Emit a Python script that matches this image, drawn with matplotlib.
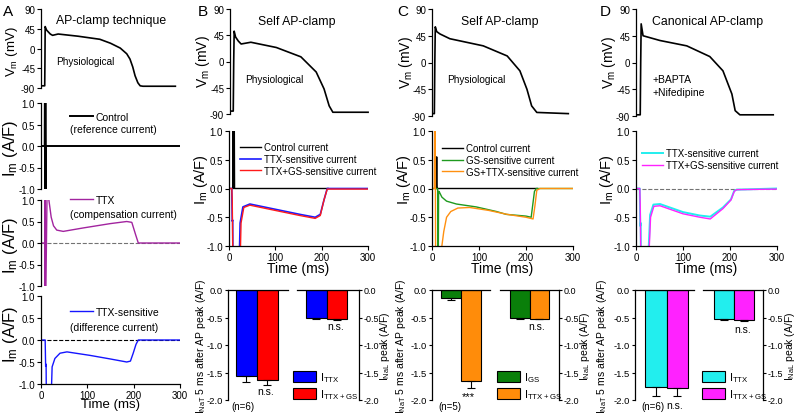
import matplotlib.pyplot as plt

plt.rcParams['font.family'] = ['Liberation Sans', 'DejaVu Sans']
plt.rcParams['mathtext.default'] = 'regular'
plt.rcParams['axes.unicode_minus'] = False
plt.rcParams['axes.linewidth'] = 0.9

# ---- action potential waveforms (time ms, mV) ----
A_ap_t = [0, 8, 8.5, 9, 12, 20, 25, 37, 80, 127, 150, 171, 185, 192, 198, 203, 209, 214, 220, 290]
A_ap_v = [-85, -85, -30, 50, 42, 33, 30, 33, 28, 21, 12, 1, -12, -24, -42, -62, -78, -85, -86, -86]
B_ap_t = [0, 7, 8, 9, 12, 18, 24, 45, 100, 153, 186, 203, 214, 222, 298]
B_ap_v = [-85, -85, 0, 52, 42, 35, 30, 33, 24, 8, -18, -47, -76, -87, -87]
C_ap_t = [0, 5, 6, 7, 10, 17, 38, 109, 160, 187, 202, 212, 223, 290]
C_ap_v = [-86, -86, 0, 60, 52, 48, 40, 28, 11, -14, -45, -73, -84, -86]
D_ap_t = [0, 9, 10, 11, 15, 51, 108, 157, 185, 204, 211, 221, 292]
D_ap_v = [-88, -88, 0, 65, 45, 37, 28, 10, -14, -53, -81, -88, -88]

# ---- current traces (time ms, A/F) ----
A_ctrl_t = [0, 8, 8.5, 9, 9.5, 10, 10.5, 300]
A_ctrl_v = [0, 0, 2, -2, 2, -2, 0, 0]
A_ttx_t = [0, 8, 8.5, 9, 9.5, 14, 17, 22, 27, 34, 48, 91, 149, 185, 196, 204, 210, 300]
A_ttx_v = [0, 0, -2, 2, -2, 2, 1.0, 0.6, 0.4, 0.3, 0.27, 0.35, 0.45, 0.5, 0.48, 0.2, 0.0, 0.0]
A_sens_t = [0, 9, 10, 11, 12, 20, 24, 30, 41, 56, 106, 149, 185, 193, 199, 205, 210, 300]
A_sens_v = [0, 0, -0.6, -0.55, -2, -2, -0.61, -0.42, -0.3, -0.27, -0.35, -0.43, -0.5, -0.48, -0.3, -0.1, 0, 0]

B_ctrl_t = [8, 9, 10, 11, 12, 214]
B_ctrl_v = [0, 2, 0, 2, 0, 0]
B_ttx_t = [0, 6, 7, 8, 9, 20, 24, 30, 45, 117, 153, 186, 197, 205, 212, 300]
B_ttx_v = [0, 0, -0.57, -0.55, -2, -2, -0.6, -0.32, -0.27, -0.39, -0.45, -0.5, -0.45, -0.2, 0, 0]
B_gs_t = [0, 6, 7, 8, 9, 22, 26, 32, 45, 117, 153, 186, 197, 205, 212, 300]
B_gs_v = [0, 0, -0.2, -1.0, -2, -2, -0.6, -0.33, -0.29, -0.41, -0.47, -0.52, -0.47, -0.2, -0.01, -0.01]

C_ctrl_t = [9, 10, 11, 13, 224]
C_ctrl_v = [0, 0.55, 0, 0, 0]
C_gs_t = [0, 12, 13, 14, 15, 21, 31, 52, 94, 137, 158, 200, 211, 218, 222, 300]
C_gs_v = [0, 0, -2, -0.05, -0.05, -0.15, -0.22, -0.27, -0.32, -0.4, -0.45, -0.48, -0.5, -0.05, 0, 0]
C_gsttx_t = [0, 5, 6.5, 8, 10, 21, 25, 31, 40, 55, 80, 120, 160, 200, 215, 219, 223, 230, 300]
C_gsttx_v = [0, 0, 2, -2, -2, -1.0, -0.75, -0.5, -0.4, -0.34, -0.33, -0.38, -0.45, -0.5, -0.53, -0.3, -0.03, 0, 0]

D_ttx_t = [0, 8, 9, 10, 11, 22, 30, 37, 51, 100, 136, 158, 185, 202, 209, 214, 300]
D_ttx_v = [0, 0, -0.65, -0.6, -2, -2, -0.46, -0.28, -0.27, -0.41, -0.47, -0.49, -0.33, -0.19, -0.04, -0.02, 0]
D_gs_t = [0, 8, 9, 10, 11, 23, 31, 38, 51, 100, 136, 158, 185, 202, 209, 214, 300]
D_gs_v = [0, 0, -0.3, -1.0, -2, -2, -0.5, -0.31, -0.3, -0.44, -0.5, -0.53, -0.35, -0.2, -0.05, -0.02, -0.01]

# ---- bar summaries: [I_NaT 5 ms after AP peak], [I_NaL peak] ----
B_late = [-1.56, -1.64]
B_late_err = [0.11, 0.09]
B_peak = [-0.51, -0.52]
B_peak_err = [0.01, 0.02]
C_late = [-0.15, -1.66]
C_late_err = [0.03, 0.12]
C_peak = [-0.51, -0.52]
C_peak_err = [0.01, 0.01]
D_late = [-1.77, -1.79]
D_late_err = [0.15, 0.14]
D_peak = [-0.53, -0.54]
D_peak_err = [0.02, 0.03]

W, H = 800, 414
fig = plt.figure(figsize=(8, 4.14), dpi=100)


def box(l, t, r, b):
    return fig.add_axes([l / W, 1 - b / H, (r - l) / W, (b - t) / H])


def ftext(x, y, s, **kw):
    kw.setdefault('ha', 'center')
    kw.setdefault('va', 'center')
    fig.text(x / W, 1 - y / H, s, **kw)


def clean(ax, bottom=False):
    ax.spines['top'].set_visible(False)
    ax.spines['right'].set_visible(False)
    ax.spines['bottom'].set_visible(bottom)
    ax.tick_params(direction='out', length=3, width=0.8, labelsize=7, pad=1.2)
    if not bottom:
        ax.set_xticks([])
    ax.patch.set_alpha(0)


def ap_axes(l, t, r, b, tt, vv):
    ax = box(l, t, r, b)
    ax.plot(tt, vv, color='k', lw=1.2)
    ax.set_xlim(0, 300)
    ax.set_ylim(-90, 90)
    ax.set_yticks([90, 45, 0, -45, -90])
    clean(ax)
    return ax


def cur_axes(l, t, r, b, bottom=False, lpad=-0.5, lsize=10):
    ax = box(l, t, r, b)
    ax.set_xlim(0, 300)
    ax.set_ylim(-1, 1)
    ax.set_yticks([1.0, 0.5, 0.0, -0.5, -1.0])
    ax.set_yticklabels(['1.0', '0.5', '0.0', '-0.5', '-1.0'])
    clean(ax, bottom)
    if bottom:
        ax.set_xticks([0, 100, 200, 300])
        ax.set_xlabel('Time (ms)', fontsize=lsize, labelpad=lpad)
    return ax


def leg(ax, x, y, fs=7.5):
    lg = ax.legend(loc='upper left', bbox_to_anchor=(x / W, 1 - y / H),
                   bbox_transform=fig.transFigure, frameon=False, fontsize=fs,
                   handlelength=2.2, handletextpad=0.25, labelspacing=0.2,
                   borderpad=0, borderaxespad=0)
    return lg


def bars(l1, r1, l2, r2, lim1, lim2, late, late_err, peak, peak_err, cols, labels, legx):
    a1 = box(l1, 291, r1, 401)
    a2 = box(l2, 291, r2, 401)
    for ax, vals, err, lim in ((a1, late, late_err, lim1), (a2, peak, peak_err, lim2)):
        bc = ax.bar([0, 1], vals, width=1, color=cols, edgecolor='k', linewidth=0.8,
                    yerr=[err, [0, 0]], capsize=3,
                    error_kw=dict(elinewidth=0.8, capthick=0.8, ecolor='k'))
        ax.set_ylim(-2, 0)
        ax.set_xlim(*lim)
        ax.set_xticks([])
        ax.set_yticks([0, -0.5, -1.0, -1.5, -2.0])
        ax.set_yticklabels(['0.0', '-0.5', '-1.0', '-1.5', '-2.0'])
        ax.spines['bottom'].set_visible(False)
        ax.tick_params(direction='out', length=2.5, width=0.8, labelsize=6.8, pad=1)
        ax.patch.set_alpha(0)
    a1.spines['right'].set_visible(False)
    a2.spines['left'].set_visible(False)
    a2.yaxis.tick_right()
    a2.tick_params(labelsize=6.5)
    fig.legend(bc.patches, labels, loc='upper left', bbox_to_anchor=(legx / W, 1 - 371 / H),
               frameon=False, fontsize=8, handlelength=2.1, handleheight=1.15,
               handletextpad=0.3, labelspacing=0.3, borderpad=0, borderaxespad=0)
    return a1, a2


LAB_T = ['I$_{TTX}$', 'I$_{TTX+GS}$']
LAB_G = ['I$_{GS}$', 'I$_{TTX+GS}$']
YL_LATE = 'I$_{NaT}$ 5 ms after AP peak (A/F)'
YL_PEAK = 'I$_{NaL}$ peak (A/F)'
VM = 'V$_m$ (mV)'
IM = 'I$_m$ (A/F)'

# ================= Panel A =================
ap_axes(41, 10, 180, 89, A_ap_t, A_ap_v)
ftext(111, 21, 'AP-clamp technique', fontsize=8.8)
ftext(56, 62, 'Physiological', fontsize=7.2, ha='left')
ftext(12, 52, VM, fontsize=9.5, rotation=90)

ax = cur_axes(41, 104, 180, 190)
ax.plot(A_ctrl_t, A_ctrl_v, color='k', lw=1.4, label='Control')
leg(ax, 70, 113)
ftext(70, 130, '(reference current)', fontsize=7.5, ha='left')
ftext(10, 148, IM, fontsize=12, rotation=90)

ax = cur_axes(41, 201, 180, 287)
ax.axhline(0, color='0.45', ls='--', lw=0.8)
ax.plot(A_ttx_t, A_ttx_v, color='#A2249F', lw=1.0, label='TTX')
leg(ax, 70, 196)
ftext(70, 215, '(compensation current)', fontsize=7.5, ha='left')
ftext(10, 245, IM, fontsize=12, rotation=90)

ax = cur_axes(41, 297, 180, 385, bottom=True, lpad=-1, lsize=9.5)
ax.axhline(0, color='k', ls='--', lw=0.8)
ax.plot(A_sens_t, A_sens_v, color='#1515FF', lw=1.0, label='TTX-sensitive')
leg(ax, 70, 308)
ftext(70, 328, '(difference current)', fontsize=7.5, ha='left')
ftext(10, 334, IM, fontsize=12, rotation=90)

# ================= Panel B =================
ap_axes(230, 10, 369, 115, B_ap_t, B_ap_v)
ftext(297, 22, 'Self AP-clamp', fontsize=8.8)
ftext(245, 80, 'Physiological', fontsize=7.2, ha='left')
ftext(203, 62, VM, fontsize=10, rotation=90)

ax = cur_axes(229, 132, 368, 247, bottom=True)
ax.plot(B_ctrl_t, B_ctrl_v, color='k', lw=1.0, label='Control current')
ax.plot(B_ttx_t, B_ttx_v, color='#1a1aff', lw=1.2, label='TTX-sensitive current')
ax.plot(B_gs_t, B_gs_v, color='#ff1a1a', lw=1.0, label='TTX+GS-sensitive current')
leg(ax, 240, 143, fs=7)
ftext(201, 180, IM, fontsize=10.5, rotation=90)

bars(228, 288, 297, 359, (-0.88, 1.98), (-0.94, 2.08), B_late, B_late_err, B_peak, B_peak_err,
     ['#0000FF', '#FF0000'], LAB_T, 293)
ftext(201, 346, YL_LATE, fontsize=7.5, rotation=90)
ftext(385, 346, YL_PEAK, fontsize=7.5, rotation=90)
ftext(243, 407, '(n=6)', fontsize=7)
ftext(266, 392, 'n.s.', fontsize=7.5)
ftext(336, 327, 'n.s.', fontsize=7.5)

# ================= Panel C =================
ap_axes(432, 10, 573, 117, C_ap_t, C_ap_v)
ftext(500, 22, 'Self AP-clamp', fontsize=8.8)
ftext(447, 80, 'Physiological', fontsize=7.2, ha='left')
ftext(406, 63, VM, fontsize=10, rotation=90)

ax = cur_axes(432, 132, 573, 247, bottom=True)
ax.plot(C_ctrl_t, C_ctrl_v, color='k', lw=1.0, label='Control current')
ax.plot(C_gs_t, C_gs_v, color='#1f9a1f', lw=1.0, label='GS-sensitive current')
ax.plot(C_gsttx_t, C_gsttx_v, color='#FF9010', lw=1.0, label='GS+TTX-sensitive current')
leg(ax, 442, 144, fs=7)
ftext(404, 180, IM, fontsize=10.5, rotation=90)

bars(432, 490, 500, 559, (-0.95, 1.95), (-1.0, 2.0), C_late, C_late_err, C_peak, C_peak_err,
     ['#0A7F0A', '#FF8C0A'], LAB_G, 497)
ftext(401, 346, YL_LATE, fontsize=7.5, rotation=90)
ftext(585, 346, YL_PEAK, fontsize=7.5, rotation=90)
ftext(450, 407, '(n=5)', fontsize=7)
ftext(468, 397, '***', fontsize=8)
ftext(537, 327, 'n.s.', fontsize=7.5)

# ================= Panel D =================
ap_axes(636, 10, 777, 117, D_ap_t, D_ap_v)
ftext(708, 22, 'Canonical AP-clamp', fontsize=8.8)
ftext(653, 80, '+BAPTA', fontsize=7.5, ha='left')
ftext(653, 93, '+Nifedipine', fontsize=7.5, ha='left')
ftext(609, 63, VM, fontsize=10, rotation=90)

ax = cur_axes(636, 132, 777, 247, bottom=True)
ax.axhline(0, color='0.45', ls='--', lw=0.8)
ax.plot(D_ttx_t, D_ttx_v, color='#22EEEE', lw=1.4, label='TTX-sensitive current')
ax.plot(D_gs_t, D_gs_v, color='#FF22FF', lw=1.0, label='TTX+GS-sensitive current')
leg(ax, 642, 149, fs=7)
ftext(607, 180, IM, fontsize=10.5, rotation=90)

bars(635, 694, 703, 763, (-0.97, 1.77), (-1.05, 1.95), D_late, D_late_err, D_peak, D_peak_err,
     ['#22EEEE', '#FF22FF'], LAB_T, 702)
ftext(602, 346, YL_LATE, fontsize=7.5, rotation=90)
ftext(790, 346, YL_PEAK, fontsize=7.5, rotation=90)
ftext(653, 407, '(n=6)', fontsize=7)
ftext(675, 406, 'n.s.', fontsize=7.5)
ftext(743, 330, 'n.s.', fontsize=7.5)

# panel letters
for x, s in ((8, 'A'), (203, 'B'), (403, 'C'), (605, 'D')):
    ftext(x, 12, s, fontsize=11)

fig.savefig('out.png', dpi=100)
